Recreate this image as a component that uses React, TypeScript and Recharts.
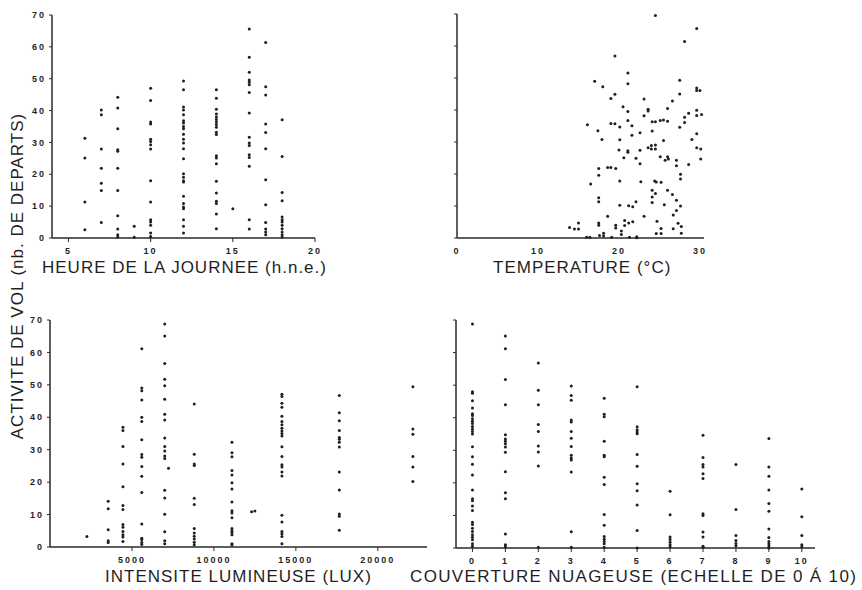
import React from 'react';
import { ScatterChart, Scatter, XAxis, YAxis } from 'recharts';

// heure (h.n.e.) -> departs observes
const hourColumns: Array<[number, number[]]> = [
  [6, [31.3, 25.1, 11.3, 2.6]],
  [7, [40.2, 38.7, 27.9, 21.9, 17.2, 14.9, 4.9]],
  [8, [44.2, 40.8, 34.3, 27.7, 27.2, 21.9, 14.9, 7.0, 2.8, 1.0, 0.3]],
  [9, [3.7, 0.2]],
  [10, [47.0, 43.2, 36.4, 35.8, 31.0, 30.3, 29.3, 27.9, 18.0, 11.3, 5.7, 5.0, 4.0, 1.6, 0.5]],
  [12, [49.3, 46.5, 41.1, 40.2, 38.7, 36.8, 36.1, 35.0, 34.3, 32.6, 31.0, 29.8, 28.0, 24.9, 20.2, 19.1, 18.0, 17.6, 13.1, 10.8, 9.7, 9.2, 5.7, 3.7, 1.6]],
  [14, [46.5, 43.9, 40.4, 38.9, 38.0, 37.2, 36.4, 35.6, 34.8, 33.2, 32.5, 25.8, 25.1, 23.3, 17.8, 14.1, 11.5, 10.8, 7.5, 2.9]],
  [15, [9.2]],
  [16, [65.6, 56.7, 52.0, 49.6, 48.9, 48.1, 45.7, 39.2, 31.6, 29.8, 29.0, 26.1, 25.3, 22.5, 5.7, 2.8]],
  [17, [61.4, 47.5, 44.9, 35.8, 33.1, 28.0, 18.3, 10.4, 4.9, 2.8, 1.9, 1.0]],
  [18, [37.1, 25.6, 14.3, 11.7, 6.6, 5.7, 5.0, 4.0, 2.9, 1.9, 1.0, 0.3]],
];

// temperature (C), departs
const temperaturePoints: Array<[number, number]> = [
  [24.5, 69.5], [29.6, 65.5], [28.1, 61.4], [19.5, 56.9], [21.1, 51.6], [21.1, 48.2],
  [17.0, 49.0], [18.0, 47.3], [27.5, 49.3], [27.5, 45.0], [29.6, 46.9], [29.6, 46.1],
  [30.0, 46.1], [19.0, 43.6], [19.5, 44.9], [23.1, 43.4], [20.5, 41.0], [21.1, 39.5],
  [23.6, 40.2], [23.6, 39.7], [26.0, 40.5], [26.6, 42.8], [25.1, 36.7], [23.1, 38.2],
  [28.6, 39.0], [28.1, 37.7], [29.6, 39.9], [29.6, 38.3], [30.2, 38.6], [16.1, 35.4],
  [19.0, 35.8], [19.5, 35.7], [20.1, 34.7], [21.1, 36.7], [21.6, 35.1], [22.6, 32.9],
  [24.1, 36.3], [24.5, 36.3], [25.5, 36.9], [26.0, 36.5], [28.1, 36.1], [27.5, 34.6],
  [24.1, 33.4], [17.4, 33.5], [17.9, 30.8], [20.1, 30.7], [21.6, 32.1], [25.5, 30.5],
  [29.0, 30.8], [29.6, 32.6], [23.6, 28.2], [24.0, 27.8], [24.5, 29.1], [24.0, 28.9],
  [24.5, 27.8], [22.6, 27.4], [21.1, 27.3], [21.1, 26.8], [20.0, 27.5], [20.6, 25.1],
  [22.1, 24.9], [22.6, 23.2], [25.1, 25.4], [26.0, 25.4], [26.1, 24.7], [25.7, 24.3],
  [27.1, 24.3], [27.1, 22.6], [28.6, 23.0], [29.6, 28.2], [30.1, 27.8], [30.1, 24.7],
  [17.5, 21.7], [17.5, 19.6], [18.6, 22.0], [19.0, 22.0], [19.6, 21.7], [16.5, 16.9],
  [20.1, 17.8], [22.7, 17.6], [24.4, 17.8], [24.6, 17.5], [25.2, 17.4], [24.1, 14.9],
  [24.1, 12.8], [24.5, 13.9], [26.0, 14.9], [26.6, 13.6], [27.1, 11.8], [27.6, 10.0],
  [27.6, 18.4], [27.6, 19.9], [17.5, 12.6], [17.5, 11.3], [20.1, 10.2], [21.2, 10.1],
  [21.7, 9.8], [22.1, 11.3], [24.1, 11.1], [25.6, 10.4], [27.1, 8.6], [26.7, 7.2],
  [23.1, 6.8], [18.6, 6.8], [20.7, 5.5], [21.2, 4.7], [21.7, 5.1], [24.7, 5.2],
  [17.5, 4.7], [17.5, 4.0], [19.6, 4.0], [19.6, 3.1], [13.9, 3.3], [14.5, 2.8],
  [15.0, 2.8], [15.0, 4.7], [18.1, 1.5], [17.6, 0.8], [18.1, 0.6], [20.3, 2.2],
  [20.3, 1.1], [20.7, 3.9], [25.2, 3.0], [25.2, 1.4], [24.6, 1.4], [26.7, 2.9],
  [27.7, 3.6], [27.7, 1.5], [27.3, 4.6], [16.0, 0.2], [16.4, 0.2], [19.1, 0.2],
  [21.3, 0.2], [22.2, 0.4], [22.2, 0.1],
];

// intensite lumineuse (lux) -> departs
const luxColumns: Array<[number, number[]]> = [
  [2250, [3.2]],
  [3550, [14.1, 11.8, 5.3, 1.9, 1.4]],
  [4450, [36.9, 35.9, 31.0, 25.6, 18.6, 12.8, 11.6, 6.9, 6.1, 4.8, 3.8, 3.1, 1.7]],
  [5600, [61.1, 49.0, 48.2, 45.3, 40.0, 38.7, 33.1, 28.5, 27.7, 24.8, 21.8, 16.8, 7.1, 2.7, 2.2, 1.4, 0.8]],
  [7000, [68.8, 65.1, 56.6, 51.7, 49.7, 45.6, 40.9, 39.2, 33.6, 31.0, 29.6, 28.1, 27.3, 17.5, 15.1, 10.1, 4.7, 1.9, 1.0]],
  [7230, [24.3]],
  [8800, [44.1, 28.6, 25.6, 25.1, 15.0, 13.1, 5.7, 4.3, 3.3, 2.5, 1.5, 0.7]],
  [11100, [32.3, 29.1, 27.8, 23.6, 22.2, 19.8, 17.9, 13.9, 11.2, 10.5, 9.0, 5.7, 5.0, 4.5, 3.8, 1.0, 0.6]],
  [12300, [10.9]],
  [12500, [11.1]],
  [14150, [47.1, 46.4, 44.3, 43.1, 40.3, 38.7, 37.7, 36.6, 35.8, 35.0, 34.2, 30.9, 27.9, 25.4, 24.7, 23.1, 21.9, 9.8, 7.7, 4.8, 4.1, 3.2, 1.0]],
  [17650, [46.7, 41.4, 38.9, 35.9, 33.8, 33.2, 32.3, 30.8, 23.1, 17.6, 10.2, 9.5, 5.2]],
  [22140, [49.4, 36.4, 34.8, 27.9, 24.7, 20.2]],
];

// couverture nuageuse (0 a 10) -> departs
const cloudColumns: Array<[number, number[]]> = [
  [0, [68.8, 48.0, 47.5, 45.2, 43.0, 41.2, 40.7, 39.7, 38.9, 38.2, 37.3, 36.5, 35.8, 35.0, 31.1, 28.0, 25.7, 22.4, 17.8, 15.1, 14.5, 12.9, 11.5, 7.9, 7.2, 6.1, 5.1, 4.1, 3.3, 2.5, 1.3, 0.5]],
  [1, [65.1, 61.2, 51.7, 44.0, 34.8, 33.5, 32.8, 32.0, 31.0, 29.4, 23.4, 17.0, 15.1, 4.3, 1.0, 0.4]],
  [2, [56.8, 48.4, 44.0, 37.9, 35.8, 31.3, 29.5, 25.2, 0.2]],
  [3, [49.7, 46.8, 45.4, 39.3, 38.7, 35.8, 33.7, 31.2, 28.5, 27.6, 27.0, 23.3, 5.0, 0.2]],
  [4, [46.0, 41.1, 40.3, 32.8, 28.5, 28.0, 21.7, 19.5, 10.3, 7.0, 3.5, 2.7, 2.0, 1.3, 0.2]],
  [5, [49.5, 37.2, 36.3, 35.6, 35.1, 28.7, 25.1, 19.7, 17.6, 13.2, 5.4, 0]],
  [6, [17.4, 10.2, 3.4, 2.6, 1.8, 1.0, 0.4]],
  [7, [34.6, 27.8, 25.6, 24.9, 22.8, 21.3, 10.5, 10.0, 4.9, 3.4, 0.5, 0.2]],
  [8, [25.6, 11.8, 3.8, 2.3, 1.4, 0.7]],
  [9, [33.6, 24.9, 22.0, 17.8, 13.7, 11.3, 5.8, 3.2, 2.0, 1.3, 0.6, 0]],
  [10, [18.1, 9.6, 3.8, 1.0, 0.4]],
];

const yTicks = [0, 10, 20, 30, 40, 50, 60, 70];

const fromColumns = (cols: Array<[number, number[]]>) =>
  cols.flatMap(([x, ys]) => ys.map((y) => ({ x, y })));

const hourData = fromColumns(hourColumns);
const tempData = temperaturePoints.map(([x, y]) => ({ x, y }));
const luxData = fromColumns(luxColumns);
const cloudData = fromColumns(cloudColumns);

const INK = '#1f1f1f';
const titleFont = '"Liberation Sans", Arial, sans-serif';

const Dot = (props: any) => <circle cx={props.cx} cy={props.cy} r={1.5} fill={INK} />;

const axisLine = { stroke: '#2a2a2a', strokeWidth: 1.5 };
const tickStyle = { fill: INK, fontSize: 9, fontWeight: 700, fontFamily: titleFont, letterSpacing: 2 };

type PanelProps = {
  left: number;
  top: number;
  width: number;
  height: number;
  margin: { top: number; right: number; bottom: number; left: number };
  data: { x: number; y: number }[];
  xDomain: [number, number];
  xTicks: number[];
  xTickLine: boolean;
  yWidth: number;
  yLabels: boolean;
};

const Panel = (p: PanelProps) => (
  <div style={{ position: 'absolute', left: p.left, top: p.top }}>
    <ScatterChart width={p.width} height={p.height} margin={p.margin}>
      <XAxis
        type="number"
        dataKey="x"
        domain={p.xDomain}
        ticks={p.xTicks}
        allowDataOverflow
        interval={0}
        height={20}
        axisLine={axisLine}
        tickLine={p.xTickLine ? { stroke: '#2a2a2a' } : false}
        tickSize={4}
        tickMargin={6}
        tick={tickStyle}
      />
      <YAxis
        type="number"
        dataKey="y"
        domain={[0, 70]}
        ticks={yTicks}
        interval={0}
        width={p.yWidth}
        axisLine={axisLine}
        tickLine={{ stroke: '#2a2a2a' }}
        tickSize={3}
        tickMargin={3}
        tick={tickStyle}
        tickFormatter={(v: number) => (p.yLabels ? String(v) : '')}
      />
      <Scatter data={p.data} shape={Dot} isAnimationActive={false} />
    </ScatterChart>
  </div>
);

const title: React.CSSProperties = {
  position: 'absolute',
  whiteSpace: 'nowrap',
  fontFamily: titleFont,
  fontSize: 17,
  letterSpacing: 1,
  color: INK,
  lineHeight: '20px',
};

export default function App() {
  return (
    <div style={{ position: 'absolute', left: 0, top: 0, width: 862, height: 590, background: '#fff', overflow: 'hidden' }}>
      <Panel
        left={0} top={0} width={330} height={290}
        margin={{ top: 15, right: 15, bottom: 32, left: 22 }}
        data={hourData} xDomain={[4, 20]} xTicks={[5, 10, 15, 20]} xTickLine
        yWidth={30} yLabels
      />
      <Panel
        left={430} top={0} width={432} height={290}
        margin={{ top: 14, right: 158, bottom: 32, left: 0 }}
        data={tempData} xDomain={[0, 30.5]} xTicks={[0, 10, 20, 30]} xTickLine={false}
        yWidth={27} yLabels={false}
      />
      <Panel
        left={0} top={300} width={430} height={290}
        margin={{ top: 20, right: 3, bottom: 23, left: 20 }}
        data={luxData} xDomain={[0, 23000]} xTicks={[5000, 10000, 15000, 20000]} xTickLine
        yWidth={30} yLabels
      />
      <Panel
        left={430} top={300} width={432} height={290}
        margin={{ top: 20, right: 47, bottom: 22, left: 0 }}
        data={cloudData} xDomain={[-0.5, 10.4]} xTicks={[0, 1, 2, 3, 4, 5, 6, 7, 8, 9, 10]} xTickLine
        yWidth={26} yLabels={false}
      />

      <div style={{ ...title, left: 42, top: 258 }}>HEURE DE LA JOURNEE (h.n.e.)</div>
      <div style={{ ...title, left: 493, top: 258 }}>TEMPERATURE (°C)</div>
      <div style={{ ...title, left: 105, top: 567 }}>INTENSITE LUMINEUSE (LUX)</div>
      <div style={{ ...title, left: 410, top: 567, letterSpacing: 1.35 }}>COUVERTURE NUAGEUSE (ECHELLE DE 0 Á 10)</div>
      <div
        style={{
          ...title,
          left: 18,
          top: 276,
          width: 340,
          textAlign: 'center',
          transform: 'translate(-50%, -50%) rotate(-90deg)',
        }}
      >
        ACTIVITE DE VOL (nb. DE DEPARTS)
      </div>
    </div>
  );
}
